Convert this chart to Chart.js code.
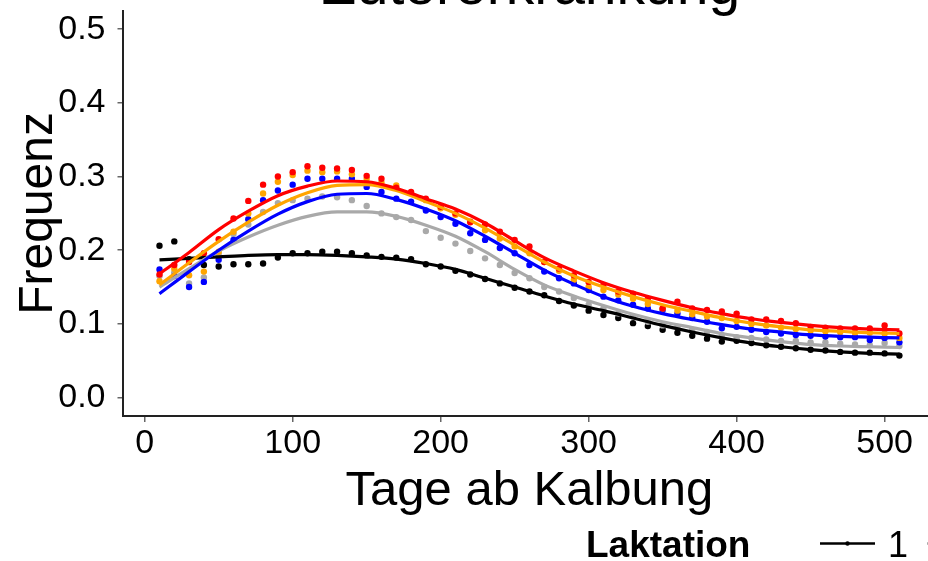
<!DOCTYPE html>
<html>
<head>
<meta charset="utf-8">
<script src="https://cdn.jsdelivr.net/npm/chart.js@4.4.1/dist/chart.umd.min.js"></script>
<style>
html, body { margin: 0; padding: 0; background: #fff; overflow: hidden; width: 928px; height: 561px; }
#wrap { position: absolute; left: 0; top: -60px; width: 1060px; height: 621px; }
</style>
</head>
<body>
<div id="wrap"><canvas id="myChart"></canvas></div>
<script>
var chartTitle = 'Eutererkrankung';

// observed frequencies, one value every 10 days
var days = [10, 20, 30, 40, 50, 60, 70, 80, 90, 100, 110, 120, 130, 140, 150, 160, 170, 180, 190, 200,
            210, 220, 230, 240, 250, 260, 270, 280, 290, 300, 310, 320, 330, 340, 350, 360, 370, 380, 390, 400,
            410, 420, 430, 440, 450, 460, 470, 480, 490, 500, 510];

var obs1 = [0.206, 0.212, 0.188, 0.180, 0.178, 0.181, 0.181, 0.182, 0.190, 0.196, 0.196, 0.198, 0.198, 0.196, 0.193, 0.191, 0.190, 0.188, 0.181, 0.178,
            0.172, 0.167, 0.161, 0.155, 0.149, 0.144, 0.139, 0.131, 0.125, 0.118, 0.112, 0.108, 0.101, 0.097, 0.092, 0.088, 0.084, 0.080, 0.076, 0.077,
            0.074, 0.071, 0.069, 0.067, 0.065, 0.064, 0.062, 0.061, 0.061, 0.060, 0.057];
var obs2 = [0.165, 0.170, 0.155, 0.163, 0.195, 0.222, 0.235, 0.252, 0.264, 0.268, 0.270, 0.273, 0.272, 0.268, 0.260, 0.250, 0.245, 0.241, 0.226, 0.217,
            0.209, 0.199, 0.189, 0.180, 0.169, 0.162, 0.150, 0.144, 0.135, 0.126, 0.121, 0.114, 0.110, 0.103, 0.098, 0.096, 0.092, 0.089, 0.085, 0.082,
            0.081, 0.079, 0.077, 0.077, 0.075, 0.075, 0.073, 0.072, 0.071, 0.074, 0.070];
var obs3 = [0.174, 0.165, 0.150, 0.157, 0.187, 0.214, 0.242, 0.268, 0.281, 0.289, 0.297, 0.297, 0.297, 0.297, 0.286, 0.279, 0.270, 0.266, 0.254, 0.245,
            0.236, 0.223, 0.214, 0.203, 0.196, 0.180, 0.171, 0.162, 0.155, 0.146, 0.137, 0.132, 0.126, 0.121, 0.119, 0.114, 0.108, 0.103, 0.094, 0.096,
            0.092, 0.089, 0.087, 0.085, 0.084, 0.083, 0.082, 0.082, 0.078, 0.081, 0.075];
var obs4 = [0.158, 0.175, 0.166, 0.171, 0.198, 0.225, 0.250, 0.277, 0.293, 0.302, 0.308, 0.306, 0.307, 0.303, 0.297, 0.292, 0.288, 0.278, 0.268, 0.257,
            0.248, 0.239, 0.227, 0.216, 0.205, 0.196, 0.184, 0.172, 0.160, 0.150, 0.146, 0.140, 0.134, 0.127, 0.121, 0.118, 0.113, 0.110, 0.108, 0.104,
            0.100, 0.098, 0.095, 0.093, 0.091, 0.090, 0.089, 0.088, 0.088, 0.087, 0.081];
var obs5 = [0.167, 0.180, 0.184, 0.196, 0.215, 0.243, 0.267, 0.289, 0.300, 0.306, 0.314, 0.312, 0.311, 0.309, 0.301, 0.297, 0.285, 0.279, 0.270, 0.259,
            0.250, 0.238, 0.235, 0.225, 0.214, 0.205, 0.184, 0.175, 0.166, 0.157, 0.153, 0.144, 0.141, 0.134, 0.121, 0.130, 0.121, 0.119, 0.117, 0.114,
            0.106, 0.106, 0.104, 0.101, 0.096, 0.095, 0.094, 0.094, 0.094, 0.098, 0.087];

var smoothDays = [10, 30, 50, 70, 90, 110, 130, 150, 170, 190, 210, 230, 250, 270, 290, 310, 330, 350, 370, 390, 410, 430, 450, 470, 490, 510];
var fit1 = [0.187, 0.189, 0.191, 0.193, 0.194, 0.194, 0.193, 0.191, 0.188, 0.182, 0.174, 0.162, 0.150, 0.138, 0.127, 0.118, 0.108, 0.098, 0.089, 0.081, 0.074, 0.069, 0.065, 0.062, 0.060, 0.059];
var fit2 = [0.150, 0.175, 0.199, 0.218, 0.234, 0.246, 0.252, 0.252, 0.246, 0.234, 0.219, 0.198, 0.174, 0.153, 0.138, 0.125, 0.113, 0.103, 0.095, 0.087, 0.081, 0.076, 0.072, 0.070, 0.069, 0.068];
var fit3 = [0.141, 0.171, 0.200, 0.226, 0.249, 0.266, 0.276, 0.277, 0.269, 0.256, 0.240, 0.219, 0.196, 0.173, 0.154, 0.137, 0.124, 0.114, 0.106, 0.099, 0.093, 0.089, 0.085, 0.083, 0.082, 0.081];
var fit4 = [0.153, 0.183, 0.212, 0.238, 0.261, 0.278, 0.288, 0.289, 0.281, 0.266, 0.250, 0.230, 0.207, 0.184, 0.165, 0.150, 0.137, 0.126, 0.117, 0.108, 0.101, 0.096, 0.092, 0.090, 0.088, 0.087];
var fit5 = [0.168, 0.197, 0.228, 0.253, 0.274, 0.287, 0.294, 0.293, 0.284, 0.270, 0.256, 0.237, 0.213, 0.190, 0.172, 0.156, 0.143, 0.132, 0.122, 0.114, 0.107, 0.102, 0.098, 0.095, 0.093, 0.092];

var laktation = ['1', '2', '3', '4', '5'];
var colors = ['#000000', '#a9a9a9', '#0000ff', '#ffa500', '#ff0000'];
var observed = [obs1, obs2, obs3, obs4, obs5];
var fitted = [fit1, fit2, fit3, fit4, fit5];

var xTicks = [0, 100, 200, 300, 400, 500];
var yTicks = [0, 0.1, 0.2, 0.3, 0.4, 0.5];
var yTickLabels = ['0.0', '0.1', '0.2', '0.3', '0.4', '0.5'];

var FONT = "'Liberation Sans', Arial, Helvetica, sans-serif";
Chart.defaults.font.family = FONT;
Chart.defaults.color = '#000';

function toXY(xs, ys) {
    return xs.map(function (x, i) { return {x: x, y: ys[i]}; });
}

var datasets = [];
laktation.forEach(function (lab, i) {
    datasets.push({
        label: lab,
        data: toXY(smoothDays, fitted[i]),
        borderColor: colors[i],
        borderWidth: 3.2,
        pointRadius: 0,
        cubicInterpolationMode: 'monotone',
        fill: false,
        order: 10 - i
    });
});
laktation.forEach(function (lab, i) {
    datasets.push({
        label: lab + ' obs',
        data: toXY(days, observed[i]),
        showLine: false,
        pointRadius: 3.2,
        pointStyle: 'circle',
        pointBackgroundColor: colors[i],
        pointBorderWidth: 0,
        order: 20 - i
    });
});

// title sits mostly above the visible window, centred over the panel
var topTitle = {
    id: 'topTitle',
    afterDraw: function (chart) {
        var ctx = chart.ctx, area = chart.chartArea;
        ctx.save();
        ctx.fillStyle = '#000';
        ctx.font = '57px ' + FONT;
        ctx.textAlign = 'center';
        ctx.textBaseline = 'alphabetic';
        ctx.fillText(chartTitle, (area.left + area.right) / 2, 63.5);
        ctx.restore();
    }
};

// ggplot-style legend along the bottom, title inline
var bottomLegend = {
    id: 'bottomLegend',
    afterDraw: function (chart) {
        var ctx = chart.ctx;
        ctx.save();
        ctx.textBaseline = 'alphabetic';
        ctx.fillStyle = '#000';
        ctx.font = 'bold 37px ' + FONT;
        ctx.fillText('Laktation', 586, 617);
        laktation.forEach(function (lab, i) {
            var x0 = 820 + i * 107, y = 603.5;
            ctx.strokeStyle = colors[i];
            ctx.lineWidth = 2.5;
            ctx.beginPath();
            ctx.moveTo(x0, y);
            ctx.lineTo(x0 + 55, y);
            ctx.stroke();
            ctx.fillStyle = colors[i];
            ctx.beginPath();
            ctx.arc(x0 + 27.5, y, 2.2, 0, Math.PI * 2);
            ctx.fill();
            ctx.fillStyle = '#000';
            ctx.font = '36px ' + FONT;
            ctx.fillText(lab, x0 + 68, 617);
        });
        ctx.restore();
    }
};

var ctx = document.getElementById('myChart').getContext('2d');
var chart = new Chart(ctx, {
    type: 'line',
    data: {datasets: datasets},
    plugins: [topTitle, bottomLegend],
    options: {
        responsive: true,
        maintainAspectRatio: false,
        animation: false,
        events: [],
        layout: {padding: {top: 70.8, left: 0, right: 123.6, bottom: 0}},
        plugins: {
            legend: {display: false},
            tooltip: {enabled: false},
            title: {display: false}
        },
        scales: {
            x: {
                type: 'linear',
                min: -15,
                max: 535,
                afterBuildTicks: function (s) { s.ticks = xTicks.map(function (v) { return {value: v}; }); },
                afterFit: function (s) { s.height = 145; },
                ticks: {font: {size: 34}, padding: 1, maxRotation: 0, autoSkip: false,
                        callback: function (v) { return String(v); }},
                grid: {drawOnChartArea: false, tickLength: 6, color: '#666', lineWidth: 1.5},
                border: {color: '#222', width: 2},
                title: {display: true, text: 'Tage ab Kalbung', font: {size: 49}, padding: {top: 0, bottom: 40}}
            },
            y: {
                min: -0.025,
                max: 0.525,
                afterBuildTicks: function (s) { s.ticks = yTicks.map(function (v) { return {value: v}; }); },
                afterFit: function (s) { s.width = 122.5; },
                ticks: {font: {size: 34}, padding: 12,
                        callback: function (v, i) { return yTickLabels[i]; }},
                grid: {drawOnChartArea: false, tickLength: 5, color: '#666', lineWidth: 1.5},
                border: {color: '#222', width: 2},
                title: {display: true, text: 'Frequenz', font: {size: 48}, padding: {top: 10, bottom: 0}}
            }
        }
    }
});
</script>
</body>
</html>
